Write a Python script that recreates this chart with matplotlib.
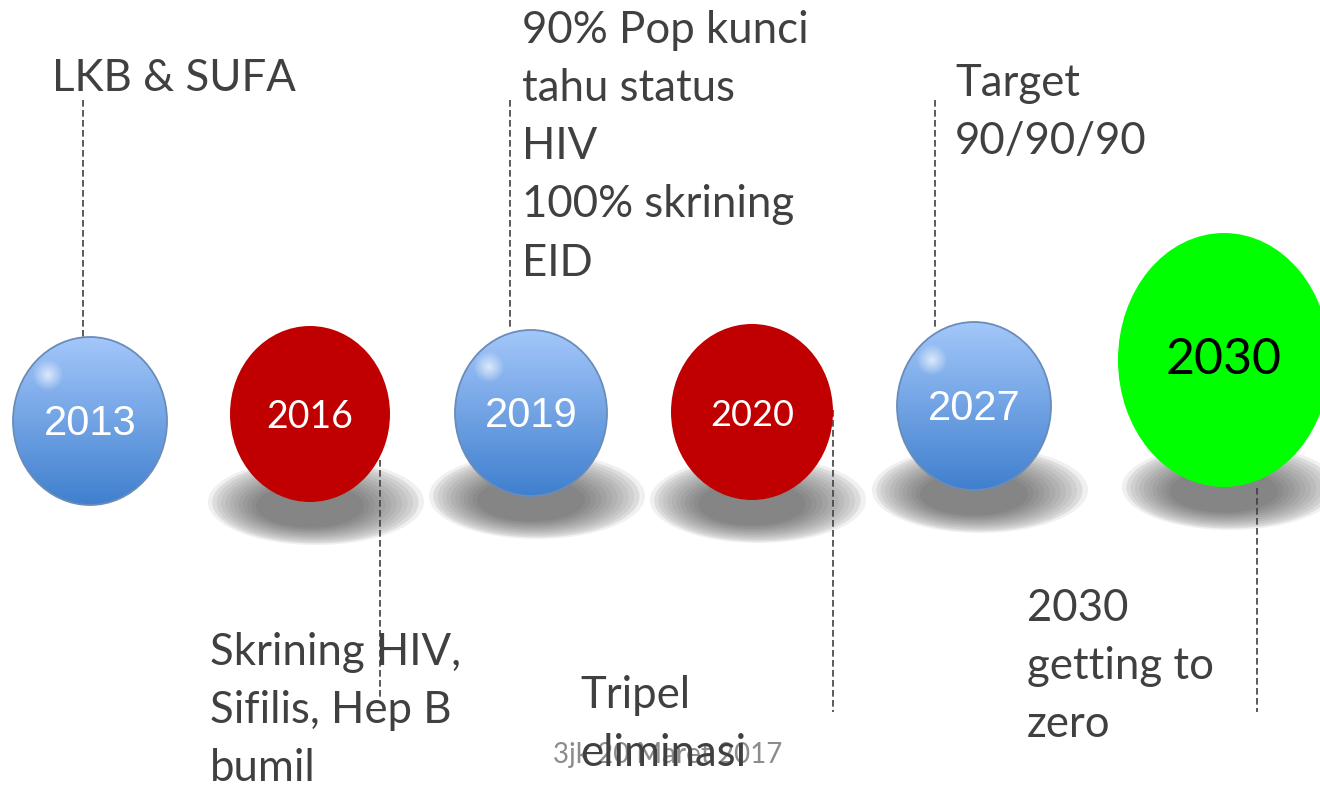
import matplotlib.pyplot as plt
import numpy as np
from matplotlib.patches import Ellipse

# data
years = ['2013', '2016', '2019', '2020', '2027', '2030']
styles = ['blue', 'red', 'blue', 'red', 'blue', 'green']
notes = ['LKB & SUFA',
         'Skrining HIV,\nSifilis, Hep B\nbumil',
         '90% Pop kunci\ntahu status\nHIV\n100% skrining\nEID',
         'Tripel\neliminasi',
         'Target\n90/90/90',
         '2030\ngetting to\nzero']
footer = '3jk 20 Maret 2017'

# layout (pixel units, y down)
cx = [90, 310, 531, 752, 974, 1224]
cy = [421, 414, 413, 412, 406, 360]
rx = [77, 80, 76, 81, 77, 106]
ry = [84, 88, 83, 88, 84, 127]
shadow = [False, True, True, True, True, True]
lines = [(83, 100, 337), (380, 460, 700), (510, 100, 330),
         (833, 410, 712), (935, 100, 330), (1257, 488, 712)]
note_xy = [(52, 58), (210, 632), (522, 10), (580, 675), (955, 63), (1027, 588)]
year_font = ['Liberation Sans', 'Lato', 'Liberation Sans', 'Lato', 'Liberation Sans', 'Lato']
year_size = [30, 27, 30, 26, 30, 36]

fig = plt.figure(figsize=(13.2, 7.85), dpi=100)
ax = fig.add_axes([0, 0, 1, 1])
ax.set_xlim(0, 1320)
ax.set_ylim(785, 0)
ax.axis('off')

txt_col = '#404040'

# shadows
n_steps = 12
for i in range(len(years)):
    if not shadow[i]:
        continue
    sx, sy = cx[i] + 6, cy[i] + ry[i]
    for k in range(n_steps):
        s = k / (n_steps - 1)
        f = 1 - 0.5 * s
        g = 0.94 - 0.42 * s ** 0.7
        ax.add_patch(Ellipse((sx - 6 * s, sy + 4 * s), 216 * f, 86 * f,
                             color=(g, g, g), lw=0, zorder=1))

# dashed connectors
for x, y0, y1 in lines:
    ax.plot([x, x], [y0, y1], color='#404040', lw=1.2, ls=(0, (4, 2)), zorder=2)

# circles
for i, yr in enumerate(years):
    e = Ellipse((cx[i], cy[i]), 2 * rx[i], 2 * ry[i], lw=0, zorder=3)
    if styles[i] == 'blue':
        e.set_facecolor('none')
        ax.add_patch(e)
        t = np.linspace(0, 1, 200)[:, None]
        top = np.array([0.64, 0.78, 0.98])
        bot = np.array([0.25, 0.50, 0.81])
        grad = top + (bot - top) * t[..., None] * np.ones((1, 2, 1))
        im = ax.imshow(grad, extent=[cx[i] - rx[i], cx[i] + rx[i], cy[i] + ry[i], cy[i] - ry[i]],
                       aspect='auto', zorder=3, interpolation='bilinear')
        im.set_clip_path(e)
        # highlight
        hx, hy = cx[i] - rx[i] * 0.55, cy[i] - ry[i] * 0.55
        yy, xx = np.mgrid[-1:1:60j, -1:1:60j]
        a = np.clip(1 - np.sqrt(xx**2 + yy**2), 0, 1) * 0.7
        hl = np.zeros((60, 60, 4))
        hl[..., :3] = 1
        hl[..., 3] = a
        im2 = ax.imshow(hl, extent=[hx - 16, hx + 16, hy + 16, hy - 16], aspect='auto', zorder=4)
        im2.set_clip_path(e)
        ax.add_patch(Ellipse((cx[i], cy[i]), 2 * rx[i], 2 * ry[i], fc='none',
                             ec='#6a8cb8', lw=1.3, zorder=5))
        tc = 'white'
    elif styles[i] == 'red':
        e.set_facecolor('#c00000')
        ax.add_patch(e)
        tc = 'white'
    else:
        e.set_facecolor('#00ff00')
        ax.add_patch(e)
        tc = 'black'
    ty = cy[i] + (3 if styles[i] != 'green' else 0)
    ax.text(cx[i], ty, yr, ha='center', va='center', color=tc,
            fontsize=year_size[i], family=year_font[i], zorder=6)

# notes
for (x, y), n in zip(note_xy, notes):
    ax.text(x, y, n, ha='left', va='top', color=txt_col, fontsize=31.5,
            family='Lato', linespacing=1.52, zorder=7)

ax.text(668, 755, footer, ha='center', va='center', color='#8c8c8c',
        fontsize=20, family='Lato', zorder=6)

fig.savefig('out.png', dpi=100)
